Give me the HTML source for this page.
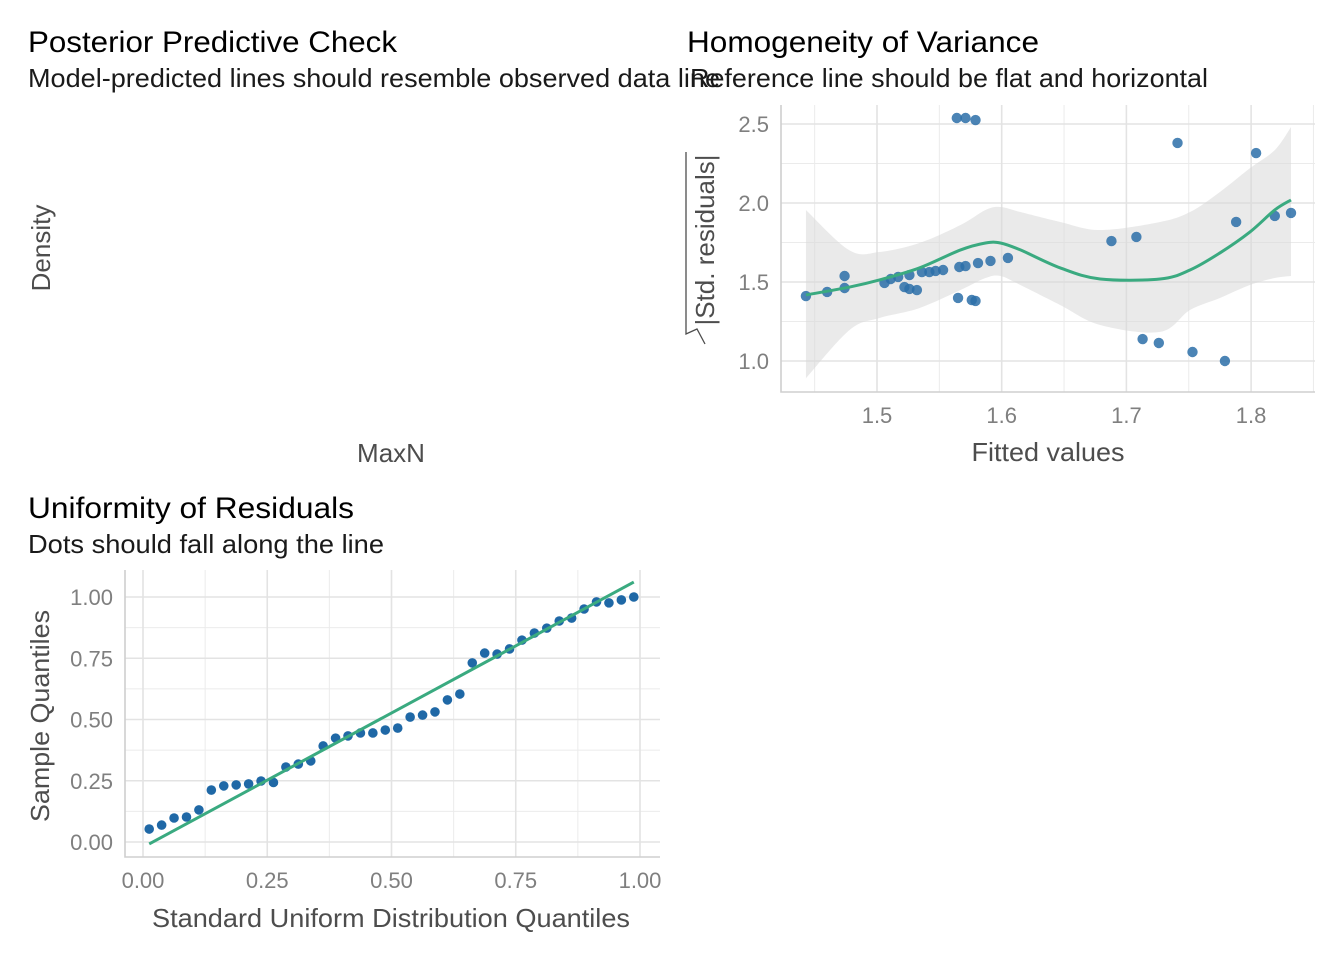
<!DOCTYPE html>
<html><head><meta charset="utf-8"><style>
body{margin:0;background:#fff;}
svg text{font-family:"Liberation Sans",sans-serif;}
</style></head><body>
<svg id="chart" width="1344" height="960" xmlns="http://www.w3.org/2000/svg">
<rect width="1344" height="960" fill="#fff"/>
<g>
<text x="28" y="52" font-size="30" textLength="369" lengthAdjust="spacingAndGlyphs" fill="#000">Posterior Predictive Check</text>
<text x="28" y="87" font-size="26" textLength="692" lengthAdjust="spacingAndGlyphs" fill="#1a1a1a">Model-predicted lines should resemble observed data line</text>
<text transform="translate(50,248) rotate(-90)" text-anchor="middle" font-size="26" fill="#4d4d4d">Density</text>
<text x="391" y="462" text-anchor="middle" font-size="26" fill="#4d4d4d">MaxN</text>
</g>
<g id="hov">
<text x="687" y="52" font-size="30" textLength="352" lengthAdjust="spacingAndGlyphs" fill="#000">Homogeneity of Variance</text>
<text x="690" y="87" font-size="26" textLength="518" lengthAdjust="spacingAndGlyphs" fill="#1a1a1a">Reference line should be flat and horizontal</text>
<text transform="translate(714,240) rotate(-90)" text-anchor="middle" font-size="26" fill="#4d4d4d">|Std. residuals|</text>
<path d="M686,152 L686,334 L697,329 L705,344" fill="none" stroke="#4d4d4d" stroke-width="1.3"/>
<text x="1048" y="461" text-anchor="middle" font-size="26" textLength="153" lengthAdjust="spacingAndGlyphs" fill="#4d4d4d">Fitted values</text>
</g>
<g id="qq">
<text x="28" y="518" font-size="30" textLength="326" lengthAdjust="spacingAndGlyphs" fill="#000">Uniformity of Residuals</text>
<text x="28" y="553" font-size="26" textLength="356" lengthAdjust="spacingAndGlyphs" fill="#1a1a1a">Dots should fall along the line</text>
<text transform="translate(49,716) rotate(-90)" text-anchor="middle" font-size="26" textLength="212" lengthAdjust="spacingAndGlyphs" fill="#4d4d4d">Sample Quantiles</text>
<text x="391" y="927" text-anchor="middle" font-size="26" textLength="478" lengthAdjust="spacingAndGlyphs" fill="#4d4d4d">Standard Uniform Distribution Quantiles</text>
</g>
</svg>
<script>
const NS="http://www.w3.org/2000/svg";
// Homogeneity data
const hovFittedX=[1.443,1.460,1.474,1.474,1.506,1.511,1.517,1.522,1.526,1.526,1.532,1.536,1.542,1.547,1.553,1.565,1.566,1.571,1.576,1.579,1.581,1.591,1.605,1.564,1.571,1.579,1.688,1.708,1.713,1.726,1.741,1.753,1.779,1.788,1.804,1.819,1.832];
const hovResidY=[1.411,1.437,1.538,1.462,1.494,1.519,1.532,1.468,1.544,1.456,1.449,1.563,1.563,1.570,1.576,1.399,1.595,1.601,1.386,1.380,1.620,1.633,1.652,2.538,2.538,2.525,1.759,1.785,1.139,1.114,2.380,1.057,1.000,1.880,2.316,1.918,1.937];
const smoothX=[1.443,1.478,1.502,1.534,1.567,1.587,1.599,1.615,1.647,1.679,1.727,1.751,1.775,1.799,1.819,1.832];
const smoothY=[1.418,1.468,1.513,1.589,1.703,1.747,1.747,1.703,1.589,1.519,1.519,1.576,1.684,1.816,1.956,2.019];
const smoothUpper=[1.956,1.70,1.69,1.747,1.861,1.956,1.975,1.943,1.88,1.829,1.88,1.943,2.07,2.22,2.335,2.48];
const smoothLower=[0.89,1.196,1.272,1.335,1.449,1.525,1.538,1.481,1.354,1.228,1.184,1.323,1.399,1.481,1.525,1.538];
const hovXTicks=[1.5,1.6,1.7,1.8];
const hovYTicks=[1.0,1.5,2.0,2.5];
// QQ data
const qqSample=[0.053,0.069,0.098,0.102,0.131,0.212,0.229,0.233,0.237,0.249,0.243,0.306,0.318,0.331,0.392,0.424,0.433,0.445,0.445,0.457,0.465,0.510,0.518,0.531,0.580,0.604,0.731,0.771,0.767,0.788,0.824,0.853,0.873,0.902,0.914,0.951,0.980,0.976,0.988,1.000];
const qqLine=[-0.008,1.061];
const qqTicks=[0,0.25,0.5,0.75,1.0];
const qqTickLabels=["0.00","0.25","0.50","0.75","1.00"];

function mk(parent,tag,attrs){const e=document.createElementNS(NS,tag);for(const k in attrs)e.setAttribute(k,attrs[k]);parent.appendChild(e);return e;}
function smoothPath(pts,move){ // Catmull-Rom to cubic bezier
 let d=(move?'M':'L')+pts[0][0]+','+pts[0][1];
 for(let i=0;i<pts.length-1;i++){
  const p0=pts[Math.max(i-1,0)],p1=pts[i],p2=pts[i+1],p3=pts[Math.min(i+2,pts.length-1)];
  const c1=[p1[0]+(p2[0]-p0[0])/6,p1[1]+(p2[1]-p0[1])/6];
  const c2=[p2[0]-(p3[0]-p1[0])/6,p2[1]-(p3[1]-p1[1])/6];
  d+='C'+c1[0]+','+c1[1]+' '+c2[0]+','+c2[1]+' '+p2[0]+','+p2[1];
 }
 return d;
}

// Homogeneity panel
(function(){
const g=document.getElementById('hov');
const L=781,R=1315,T=105,B=392;
const sx=v=>877+(v-1.5)*1247, sy=v=>203-(v-2.0)*158;
const grid=mk(g,'g',{});


g.insertBefore(grid,g.firstChild);
[1.45,1.55,1.65,1.75,1.85].forEach(v=>{if(sx(v)>L&&sx(v)<R)mk(grid,'line',{x1:sx(v),x2:sx(v),y1:T,y2:B,stroke:'#ebebeb','stroke-width':1});});
[1.25,1.75,2.25].forEach(v=>mk(grid,'line',{x1:L,x2:R,y1:sy(v),y2:sy(v),stroke:'#ebebeb','stroke-width':1}));
hovXTicks.forEach(v=>{mk(grid,'line',{x1:sx(v),x2:sx(v),y1:T,y2:B,stroke:'#e3e3e3','stroke-width':1.6});
 const t=mk(g,'text',{x:sx(v),y:B+31,'text-anchor':'middle','font-size':22,fill:'#7f7f7f'});t.textContent=v.toFixed(1);
 
 });
hovYTicks.forEach(v=>{mk(grid,'line',{x1:L,x2:R,y1:sy(v),y2:sy(v),stroke:'#e3e3e3','stroke-width':1.6});
 const t=mk(g,'text',{x:L-12,y:sy(v)+8,'text-anchor':'end','font-size':22,fill:'#7f7f7f'});t.textContent=v.toFixed(1);
 
 });
const ax=mk(g,'path',{d:`M${L},${T} L${L},${B} L${R},${B}`,fill:'none',stroke:'#cfcfcf','stroke-width':1.6});


const up=smoothX.map((x,i)=>[sx(x),sy(smoothUpper[i])]);
const lo=smoothX.map((x,i)=>[sx(x),sy(smoothLower[i])]).reverse();
const band=mk(g,'path',{d:smoothPath(up,true)+smoothPath(lo,false)+'Z',fill:'#d9d9d9','fill-opacity':0.55});


hovFittedX.forEach((x,i)=>{const c=mk(g,'circle',{cx:sx(x),cy:sy(hovResidY[i]),r:5.2,fill:'#2b6fa8','fill-opacity':0.85});
 
 });
const lp=smoothX.map((x,i)=>[sx(x),sy(smoothY[i])]);
const ln=mk(g,'path',{d:smoothPath(lp,true),fill:'none',stroke:'#3aaa80','stroke-width':3,'stroke-linejoin':'round'});


})();

// QQ panel
(function(){
const g=document.getElementById('qq');
const L=125,R=660,T=570,B=857;
const sx=v=>143+v*497, sy=v=>842-v*245;
const grid=mk(g,'g',{});


[0.125,0.375,0.625,0.875].forEach(v=>{mk(grid,'line',{x1:sx(v),x2:sx(v),y1:T,y2:B,stroke:'#ebebeb','stroke-width':1});mk(grid,'line',{x1:L,x2:R,y1:sy(v),y2:sy(v),stroke:'#ebebeb','stroke-width':1});});
qqTicks.forEach((v,i)=>{
 mk(grid,'line',{x1:sx(v),x2:sx(v),y1:T,y2:B,stroke:'#e3e3e3','stroke-width':1.6});
 mk(grid,'line',{x1:L,x2:R,y1:sy(v),y2:sy(v),stroke:'#e3e3e3','stroke-width':1.6});
 const t=mk(g,'text',{x:sx(v),y:B+31,'text-anchor':'middle','font-size':22,fill:'#7f7f7f'});t.textContent=qqTickLabels[i];
 
 
 const u=mk(g,'text',{x:L-12,y:sy(v)+8,'text-anchor':'end','font-size':22,fill:'#7f7f7f'});u.textContent=qqTickLabels[i];
 
 });
const ax=mk(g,'path',{d:`M${L},${T} L${L},${B} L${R},${B}`,fill:'none',stroke:'#cfcfcf','stroke-width':1.6});


const n=qqSample.length;
qqSample.forEach((v,i)=>{const c=mk(g,'circle',{cx:sx((i+0.5)/n),cy:sy(v),r:4.8,fill:'#1f68a6'});
 
 });
const ln=mk(g,'line',{x1:sx(0.5/n),y1:sy(qqLine[0]),x2:sx((n-0.5)/n),y2:sy(qqLine[1]),stroke:'#3aaa80','stroke-width':3});


})();
</script>
</body></html>
